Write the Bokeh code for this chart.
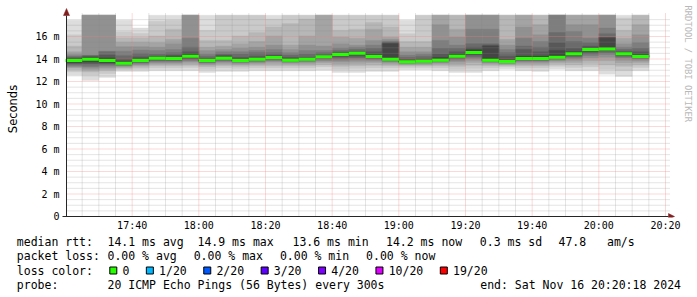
import datetime as dt
from bokeh.plotting import figure
from bokeh.layouts import column
from bokeh.models import FixedTicker, DatetimeTickFormatter, Range1d, ColumnDataSource
from bokeh.core.properties import value
from bokeh.embed import file_html
from bokeh.resources import INLINE

# ---------------- data ----------------
end_time = dt.datetime(2024, 11, 16, 20, 20, 18)
first_step = dt.datetime(2024, 11, 16, 17, 20, 0)
step_minutes = 5
pings_per_step = 20
graph_top = 17.89     # rrdtool graph upper limit (ms); smoke is clipped there

median_rtt = [13.86, 13.98, 13.86, 13.63, 13.86, 14.06, 14.04, 14.24, 13.86, 14.07,
              13.87, 13.98, 14.13, 13.89, 13.98, 14.19, 14.40, 14.51, 14.22, 13.98,
              13.75, 13.81, 13.89, 14.25, 14.57, 13.89, 13.78, 14.04, 14.04, 14.16,
              14.46, 14.84, 14.90, 14.46, 14.22]

# sorted ping times (ms) of every 5-minute step
c00 = [12.55, 12.85, 13.05, 13.2, 13.3, 13.4, 13.5, 13.6, 13.7, 13.8, 13.92, 14.0, 14.1, 14.2, 14.3, 14.45, 14.65, 15.15, 16.15, 17.45]
c01 = [12.1, 12.55, 12.85, 13.0, 13.15, 13.3, 13.45, 13.6, 13.75, 13.9, 14.05, 14.15, 14.25, 14.3, 14.35, 19, 19, 19, 19, 19]
c02 = [12.35, 12.7, 12.95, 13.1, 13.25, 13.4, 13.5, 13.6, 13.7, 13.8, 13.92, 14.1, 14.35, 14.65, 14.7, 19, 19, 19, 19, 19]
c03 = [12.9, 13.05, 13.15, 13.25, 13.35, 13.42, 13.48, 13.53, 13.57, 13.6, 13.66, 13.8, 14.0, 14.3, 14.7, 15.1, 15.5, 15.9, 16.4, 17.45]
c04 = [12.9, 13.1, 13.25, 13.4, 13.5, 13.6, 13.68, 13.74, 13.8, 13.84, 13.9, 14.0, 14.2, 14.5, 14.8, 15.1, 15.5, 15.9, 16.3, 16.75]
c05 = [12.95, 13.2, 13.4, 13.55, 13.65, 13.75, 13.85, 13.92, 13.98, 14.03, 14.1, 14.15, 14.25, 14.45, 14.75, 15.05, 15.45, 16.05, 17.35, 19]
c06 = [12.95, 13.2, 13.4, 13.55, 13.65, 13.75, 13.85, 13.92, 13.98, 14.02, 14.06, 14.15, 14.35, 14.55, 14.85, 15.35, 15.75, 16.65, 17.45, 19]
c07 = [12.95, 13.25, 13.45, 13.6, 13.75, 13.85, 13.95, 14.05, 14.13, 14.2, 14.3, 14.45, 14.65, 15.05, 15.85, 19, 19, 19, 19, 19]
c08 = [12.8, 13.1, 13.3, 13.45, 13.55, 13.65, 13.72, 13.78, 13.82, 13.85, 13.9, 13.95, 14.05, 14.25, 14.45, 14.75, 15.05, 15.65, 16.55, 19]
c09 = [12.9, 13.2, 13.4, 13.55, 13.68, 13.78, 13.88, 13.95, 14.0, 14.05, 14.1, 14.15, 14.35, 14.45, 14.65, 14.85, 15.15, 15.65, 19, 19]
c10 = [12.9, 13.15, 13.35, 13.5, 13.6, 13.68, 13.75, 13.8, 13.84, 13.86, 13.9, 14.0, 14.15, 14.45, 14.65, 14.95, 15.35, 16.05, 19, 19]
c11 = [12.95, 13.2, 13.4, 13.55, 13.65, 13.75, 13.83, 13.9, 13.95, 13.97, 14.0, 14.05, 14.25, 14.55, 14.75, 15.05, 15.55, 16.35, 19, 19]
c12 = [12.95, 13.2, 13.4, 13.6, 13.75, 13.85, 13.95, 14.02, 14.08, 14.11, 14.15, 14.2, 14.35, 14.55, 14.85, 15.25, 16.05, 16.85, 17.55, 19]
c13 = [12.95, 13.2, 13.4, 13.55, 13.65, 13.73, 13.8, 13.84, 13.87, 13.88, 13.92, 14.0, 14.15, 14.35, 14.55, 14.85, 15.25, 17.15, 19, 19]
c14 = [12.95, 13.2, 13.4, 13.55, 13.68, 13.78, 13.86, 13.91, 13.95, 13.97, 14.0, 14.05, 14.15, 14.45, 14.75, 15.25, 16.05, 17.55, 19, 19]
c15 = [13.0, 13.3, 13.5, 13.65, 13.8, 13.9, 14.0, 14.08, 14.14, 14.17, 14.22, 14.25, 14.35, 14.55, 14.75, 15.15, 19, 19, 19, 19]
c16 = [12.8, 13.1, 13.35, 13.55, 13.75, 13.9, 14.05, 14.2, 14.3, 14.37, 14.43, 14.45, 14.55, 14.75, 14.95, 15.35, 15.95, 16.55, 19, 19]
c17 = [12.8, 13.15, 13.4, 13.6, 13.8, 13.95, 14.1, 14.25, 14.38, 14.48, 14.54, 14.55, 14.65, 14.85, 15.05, 15.25, 15.85, 16.65, 19, 19]
c18 = [12.9, 13.2, 13.45, 13.65, 13.8, 13.92, 14.02, 14.1, 14.16, 14.2, 14.25, 14.35, 14.65, 14.95, 15.25, 15.65, 16.65, 17.25, 19, 19]
c19 = [12.9, 13.2, 13.4, 13.55, 13.68, 13.78, 13.85, 13.9, 13.94, 13.96, 14.05, 15.35, 15.45, 15.5, 15.6, 15.75, 15.95, 16.85, 19, 19]
c20 = [13.05, 13.25, 13.4, 13.5, 13.58, 13.64, 13.68, 13.71, 13.73, 13.74, 13.78, 13.85, 14.0, 14.15, 14.35, 14.65, 15.05, 15.55, 16.25, 17.45]
c21 = [13.05, 13.25, 13.4, 13.5, 13.6, 13.67, 13.73, 13.77, 13.79, 13.8, 13.85, 13.9, 14.05, 14.25, 14.45, 14.65, 15.05, 15.55, 19, 19]
c22 = [12.95, 13.2, 13.4, 13.55, 13.65, 13.73, 13.8, 13.84, 13.87, 13.88, 13.95, 14.15, 14.45, 14.95, 15.65, 17.05, 19, 19, 19, 19]
c23 = [12.8, 13.1, 13.35, 13.55, 13.75, 13.9, 14.02, 14.12, 14.19, 14.23, 14.3, 14.45, 14.65, 14.95, 15.25, 15.95, 16.65, 19, 19, 19]
c24 = [12.8, 13.15, 13.45, 13.7, 13.9, 14.05, 14.2, 14.35, 14.46, 14.53, 14.65, 14.85, 15.05, 15.35, 16.65, 19, 19, 19, 19, 19]
c25 = [12.95, 13.2, 13.4, 13.55, 13.65, 13.73, 13.8, 13.84, 13.87, 13.88, 14.05, 15.15, 15.25, 15.35, 16.65, 19, 19, 19, 19, 19]
c26 = [13.1, 13.3, 13.42, 13.52, 13.6, 13.66, 13.71, 13.74, 13.76, 13.77, 13.85, 13.95, 14.25, 14.55, 14.85, 15.25, 15.75, 19, 19, 19]
c27 = [12.95, 13.2, 13.4, 13.55, 13.7, 13.8, 13.88, 13.95, 14.0, 14.02, 14.15, 14.25, 14.85, 15.15, 15.85, 16.85, 19, 19, 19, 19]
c28 = [12.9, 13.2, 13.4, 13.55, 13.7, 13.8, 13.88, 13.95, 14.0, 14.02, 14.15, 14.25, 14.65, 15.05, 15.55, 16.15, 17.05, 19, 19, 19]
c29 = [13.1, 13.35, 13.55, 13.7, 13.82, 13.92, 14.0, 14.07, 14.12, 14.14, 14.3, 14.75, 15.45, 16.35, 19, 19, 19, 19, 19, 19]
c30 = [12.95, 13.25, 13.5, 13.7, 13.9, 14.05, 14.18, 14.3, 14.38, 14.43, 14.55, 14.65, 14.95, 15.55, 16.45, 17.05, 19, 19, 19, 19]
c31 = [12.95, 13.3, 13.6, 13.85, 14.1, 14.3, 14.45, 14.6, 14.72, 14.8, 14.85, 14.95, 15.15, 15.45, 15.85, 17.05, 19, 19, 19, 19]
c32 = [12.65, 13.1, 13.5, 13.85, 14.15, 14.4, 14.58, 14.72, 14.82, 14.87, 14.95, 15.85, 15.95, 16.25, 16.75, 19, 19, 19, 19, 19]
c33 = [12.45, 12.95, 13.35, 13.65, 13.9, 14.1, 14.22, 14.32, 14.4, 14.44, 14.5, 14.55, 14.65, 14.85, 15.05, 15.35, 15.85, 16.55, 17.65, 19]
c34 = [12.95, 13.25, 13.5, 13.7, 13.85, 13.97, 14.06, 14.13, 14.18, 14.2, 14.25, 14.35, 14.65, 14.95, 15.45, 16.15, 17.05, 19, 19, 19]

step_pings = [c00, c01, c02, c03, c04, c05, c06, c07, c08, c09, c10, c11, c12, c13, c14,
              c15, c16, c17, c18, c19, c20, c21, c22, c23, c24, c25, c26, c27, c28, c29,
              c30, c31, c32, c33, c34]

x_tick_labels = ["17:40", "18:00", "18:20", "18:40", "19:00", "19:20", "19:40", "20:00", "20:20"]
y_tick_values = [0, 2, 4, 6, 8, 10, 12, 14, 16]
y_tick_labels = ["0", "2 m", "4 m", "6 m", "8 m", "10 m", "12 m", "14 m", "16 m"]

rtt_items = ["14.1 ms avg", "14.9 ms max", "13.6 ms min", "14.2 ms now", "0.3 ms sd", "47.8   am/s"]
loss_items = ["0.00 % avg", "0.00 % max", "0.00 % min", "0.00 % now"]
loss_labels = ["0", "1/20", "2/20", "3/20", "4/20", "10/20", "19/20"]
loss_colors = ["#26ff00", "#00b8ff", "#0059ff", "#5e00ff", "#7e00ff", "#dd00ff", "#ff0000"]
probe_text = "20 ICMP Echo Pings (56 Bytes) every 300s"
end_text = "end: Sat Nov 16 20:20:18 2024"
watermark = "RRDTOOL / TOBI OETIKER"

# ---------------- geometry (pixels) ----------------
EPOCH = dt.datetime(1970, 1, 1)


def ms(t):
    return (t - EPOCH).total_seconds() * 1000.0


PX_X = 600.0              # graph width for 3 h
PX_PER_MS_Y = 11.25       # pixels per millisecond of rtt
FRAME_L, AXIS_X, FRAME_R = 60, 66, 697
AXIS_Y, FRAME_B = 216, 217

x_start = end_time - dt.timedelta(hours=3)
xs0, xs1 = ms(x_start), ms(end_time)
mpp = (xs1 - xs0) / PX_X                      # time ms per pixel


def ypx(dy):                                   # pixel distance -> rtt units
    return dy / PX_PER_MS_Y


x_lo = xs0 - (AXIS_X - FRAME_L) * mpp
x_hi = xs1 + (FRAME_R - AXIS_X - PX_X) * mpp
y_lo = -ypx(FRAME_B - AXIS_Y)
y_hi = ypx(AXIS_Y)

t_left = [ms(first_step + dt.timedelta(minutes=step_minutes * i)) for i in range(len(step_pings))]
t_right = [t + step_minutes * 60000 for t in t_left]

half = pings_per_step // 2
rows = dict(left=[], right=[], bottom=[], top=[], color=[])
for k in range(1, half + 1):
    g = int(190 / half * (half - k)) + 50
    col = "#%02x%02x%02x" % (g, g, g)
    for i, pings in enumerate(step_pings):
        rows["left"].append(max(t_left[i], xs0))
        rows["right"].append(t_right[i])
        rows["bottom"].append(min(pings[k - 1], graph_top))
        rows["top"].append(min(pings[pings_per_step - k], graph_top))
        rows["color"].append(col)
smoke = ColumnDataSource(rows)

# ---------------- main plot ----------------
p = figure(width=697, height=234, x_range=Range1d(x_lo, x_hi), y_range=Range1d(y_lo, y_hi),
           x_axis_type="datetime", output_backend="svg", toolbar_location=None,
           min_border_left=FRAME_L, min_border_right=0, min_border_top=0,
           min_border_bottom=234 - FRAME_B)
if hasattr(p, "frame_align"):
    p.frame_align = False
p.outline_line_color = None
p.background_fill_color = "white"
p.border_fill_color = "white"
p.xgrid.visible = False
p.ygrid.visible = False

p.quad(left="left", right="right", bottom="bottom", top="top", fill_color="color",
       line_color="color", line_width=0.4, source=smoke, level="image")

# grid (drawn over the smoke, as rrdtool does)
day = dt.datetime(2024, 11, 16)
major_ms = [ms(day + dt.timedelta(hours=int(s[:2]), minutes=int(s[3:]))) for s in x_tick_labels]
minor_ms = [t for t in (xs0 - (xs0 % 300000) + 300000 * i for i in range(1, 40))
            if xs0 < t <= xs1 and t not in major_ms]
y_minor = [v * 0.5 for v in range(1, 36) if (v * 0.5) not in y_tick_values]
grid_top = ypx(AXIS_Y - 13)
grid_right = xs1 + 3 * mpp
red = (245, 128, 128)
grey = (140, 140, 140)
p.segment(x0=minor_ms, y0=[0] * len(minor_ms), x1=minor_ms, y1=[grid_top] * len(minor_ms),
          line_color=grey, line_alpha=0.45, line_width=1, line_dash="1 1", level="underlay")
p.segment(x0=[xs0] * len(y_minor), y0=y_minor, x1=[grid_right] * len(y_minor), y1=y_minor,
          line_color=grey, line_alpha=0.45, line_width=1, line_dash="1 1", level="underlay")
p.segment(x0=major_ms, y0=[0] * len(major_ms), x1=major_ms, y1=[grid_top] * len(major_ms),
          line_color=red, line_alpha=0.6, line_width=1, line_dash="1 1", level="underlay")
ymaj = y_tick_values[1:]
p.segment(x0=[xs0] * len(ymaj), y0=ymaj, x1=[grid_right] * len(ymaj), y1=ymaj,
          line_color=red, line_alpha=0.6, line_width=1, line_dash="1 1", level="underlay")

# median line
p.segment(x0=t_left, y0=median_rtt, x1=t_right, y1=median_rtt,
          line_color="#26ff00", line_width=3, line_cap="butt")

# axis lines with arrows
axis_col = "#262626"
arrow_col = "#801f1f"
p.segment(x0=[xs0], y0=[0], x1=[xs0], y1=[ypx(AXIS_Y - 15)], line_color=axis_col, line_width=1)
p.segment(x0=[xs0 - 4 * mpp], y0=[0], x1=[xs1 + 2 * mpp], y1=[0], line_color=axis_col, line_width=1)
p.patches(xs=[[xs0 - 3 * mpp, xs0 + 3 * mpp, xs0], [xs1 + 2 * mpp, xs1 + 2 * mpp, xs1 + 8 * mpp]],
          ys=[[ypx(AXIS_Y - 15), ypx(AXIS_Y - 15), ypx(AXIS_Y - 8)], [ypx(3), ypx(-3), 0]],
          fill_color=arrow_col, line_color=arrow_col, line_width=0.5)

p.text(x=[xs1 + 21 * mpp], y=[ypx(AXIS_Y - 5)], text=[watermark], angle=-90, angle_units="deg",
       text_font=value("DejaVu Sans Mono"), text_font_size="8.8px", text_color="#b8b8b8",
       text_baseline="middle", text_align="left")

# axes
p.xaxis.ticker = FixedTicker(ticks=major_ms, minor_ticks=[])
p.xaxis.formatter = DatetimeTickFormatter(seconds="%H:%M", minsec="%H:%M", minutes="%H:%M",
                                          hourmin="%H:%M", hours="%H:%M")
p.yaxis.ticker = FixedTicker(ticks=y_tick_values, minor_ticks=[])
p.yaxis.major_label_overrides = {v: l for v, l in zip(y_tick_values, y_tick_labels)}
for ax in (p.xaxis[0], p.yaxis[0]):
    ax.axis_line_color = None
    ax.major_tick_line_color = None
    ax.minor_tick_line_color = None
    ax.major_tick_out = 0
    ax.minor_tick_out = 0
    ax.major_label_text_font = "DejaVu Sans Mono"
    ax.major_label_text_font_size = "10px"
    ax.major_label_text_color = "#000000"
p.xaxis.major_label_standoff = 2
p.yaxis.major_label_standoff = 1
p.yaxis.axis_label = "Seconds"
p.yaxis.axis_label_text_font = "DejaVu Sans"
p.yaxis.axis_label_text_font_size = "11.5px"
p.yaxis.axis_label_text_font_style = "normal"
p.yaxis.axis_label_text_color = "#000000"
p.yaxis.axis_label_standoff = 12

# ---------------- legend area (pixel coordinates) ----------------
q = figure(width=697, height=63, x_range=Range1d(0, 697), y_range=Range1d(63, 0),
           output_backend="svg", toolbar_location=None, min_border=0,
           x_axis_location=None, y_axis_location=None)
if hasattr(q, "frame_align"):
    q.frame_align = False
q.outline_line_color = None
q.grid.visible = False
q.background_fill_color = "white"
q.border_fill_color = "white"


def nb(s):
    return s.replace(" ", "\u00a0")


cw = 6.95
font = value("DejaVu Sans Mono")
fs = "11.5px"
line_y = [7, 21.7, 36, 50.3]
tx, ty, tt = [], [], []
for lab, y in zip(["median rtt:", "packet loss:", "loss color:", "probe:"], line_y):
    tx.append(16.3); ty.append(y); tt.append(lab)
for i, item in enumerate(rtt_items):
    tx.append([107, 197, 292, 385.5, 479.3, 558][i]); ty.append(line_y[0]); tt.append(item)
for i, item in enumerate(loss_items):
    tx.append(107 + 86.2 * i); ty.append(line_y[1]); tt.append(item)
tx.append(107); ty.append(line_y[3]); tt.append(probe_text)
q.text(x=tx, y=ty, text=[nb(s) for s in tt], text_font=font, text_font_size=fs,
       text_baseline="middle", text_color="black")
q.text(x=[680.5], y=[line_y[3]], text=[nb(end_text)], text_font=font, text_font_size=fs,
       text_baseline="middle", text_align="right", text_color="black")

bx = 109.3
box_l, box_r, lab_x = [], [], []
for lab in loss_labels:
    box_l.append(bx)
    box_r.append(bx + 7)
    lab_x.append(bx + 12.7)
    bx += 12.7 + (len(lab) + 2) * cw + 3
q.quad(left=box_l, right=box_r, top=[line_y[2] - 3.5] * 7, bottom=[line_y[2] + 3.5] * 7,
       fill_color=loss_colors, line_color="black", line_width=1)
q.text(x=lab_x, y=[line_y[2]] * 7, text=loss_labels, text_font=font, text_font_size=fs,
       text_baseline="middle", text_color="black")

layout = column(p, q)
open("out.html", "w").write(file_html(layout, INLINE))
